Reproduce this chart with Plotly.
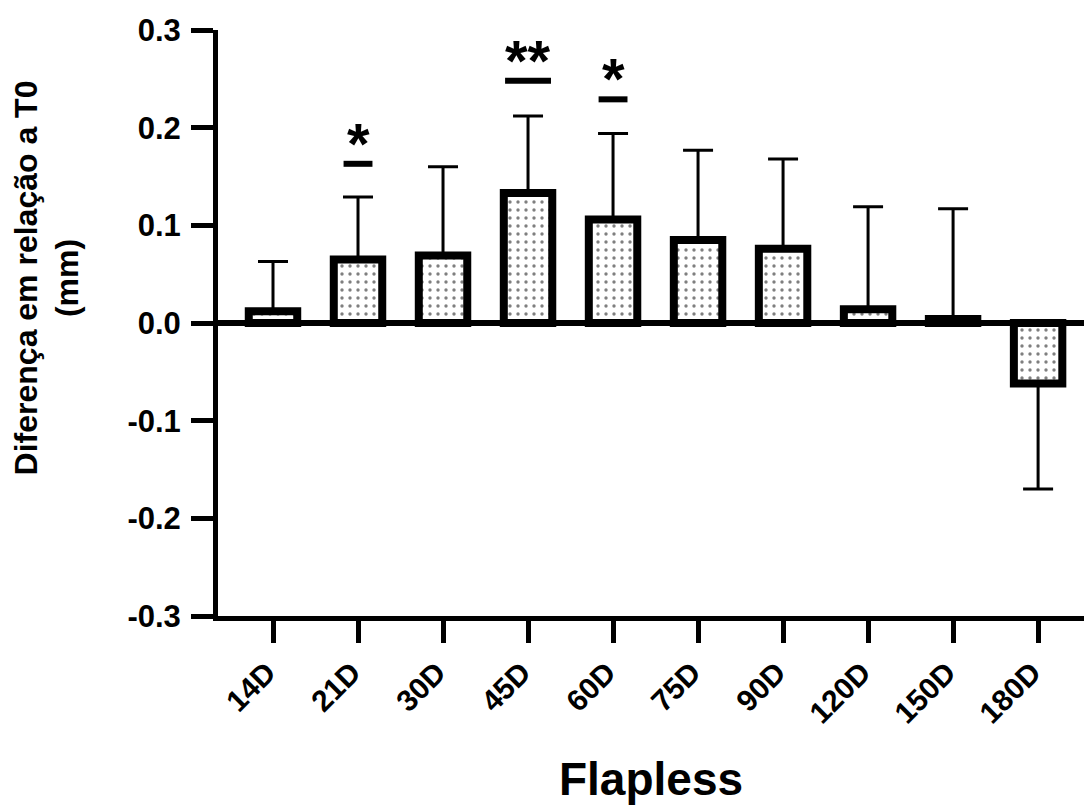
import plotly.graph_objects as go

categories = ["14D", "21D", "30D", "45D", "60D", "75D", "90D", "120D", "150D", "180D"]
mean_diff = [0.012, 0.065, 0.069, 0.133, 0.106, 0.085, 0.076, 0.014, 0.004, -0.062]
sd_diff = [0.051, 0.064, 0.091, 0.079, 0.088, 0.092, 0.092, 0.105, 0.113, 0.108]

sig_categories = ["21D", "45D", "60D"]
sig_heights = [0.163, 0.248, 0.229]
sig_labels = ["*", "**", "*"]

y_tick_values = [0.3, 0.2, 0.1, 0.0, -0.1, -0.2, -0.3]
y_tick_labels = ["0.3", "0.2", "0.1", "0.0", "-0.1", "-0.2", "-0.3"]

FONT = "Liberation Sans, Arial, Helvetica, sans-serif"

err_up = [s if m >= 0 else 0 for m, s in zip(mean_diff, sd_diff)]
err_down = [s if m < 0 else 0 for m, s in zip(mean_diff, sd_diff)]

fig = go.Figure()
fig.add_trace(go.Bar(
    x=categories,
    y=mean_diff,
    width=0.57,
    marker=dict(
        color="white",
        line=dict(color="black", width=8),
        pattern=dict(shape=".", fgcolor="black", bgcolor="white", size=8, solidity=0.14),
    ),
    error_y=dict(type="data", symmetric=False, array=err_up, arrayminus=err_down,
                 color="black", thickness=3, width=15),
    showlegend=False,
))

shapes = []
annotations = []
for cat, h, lab in zip(sig_categories, sig_heights, sig_labels):
    idx = categories.index(cat)
    hw = 0.27 if len(lab) > 1 else 0.17
    shapes.append(dict(type="line", xref="x", yref="y", x0=idx - hw, x1=idx + hw, y0=h, y1=h,
                       line=dict(color="black", width=6)))
    annotations.append(dict(x=cat, y=h, xref="x", yref="y", text=lab, showarrow=False,
                            yanchor="bottom", yshift=-14,
                            font=dict(family=FONT, size=58, color="black", weight="bold")))

annotations.append(dict(x=-0.198, y=0.577, xref="paper", yref="paper",
                        text="Diferença em relação a T0<br>(mm)", showarrow=False,
                        textangle=-90, xanchor="center", yanchor="middle",
                        font=dict(family=FONT, size=32, color="black", weight="bold")))

fig.update_layout(
    width=1084, height=805,
    margin=dict(l=218, r=0, t=30, b=189),
    plot_bgcolor="white", paper_bgcolor="white",
    font=dict(family=FONT, color="black", weight="bold"),
    shapes=shapes,
    annotations=annotations,
)
fig.update_xaxes(
    type="category",
    range=[-0.647, 9.54],
    showline=True, linewidth=5, linecolor="black",
    ticks="outside", ticklen=22, tickwidth=5, tickcolor="black",
    tickangle=-45,
    ticklabelshift=-6,
    tickfont=dict(family=FONT, size=30, color="black", weight="bold"),
    showgrid=False, zeroline=False,
    title=dict(text="Flapless", font=dict(family=FONT, size=46, color="black", weight="bold"),
               standoff=44),
)
fig.update_yaxes(
    range=[-0.3, 0.3],
    tickvals=y_tick_values, ticktext=y_tick_labels,
    showline=True, linewidth=5, linecolor="black",
    ticks="outside", ticklen=22, tickwidth=5, tickcolor="black",
    ticklabelstandoff=4,
    tickfont=dict(family=FONT, size=31, color="black", weight="bold"),
    showgrid=False,
    zeroline=True, zerolinewidth=6, zerolinecolor="black",
)

fig.write_html("out.html")
